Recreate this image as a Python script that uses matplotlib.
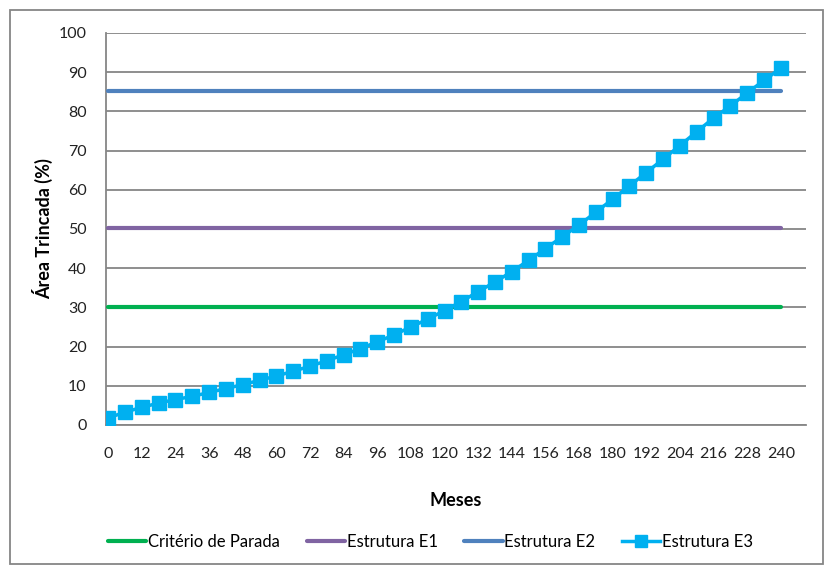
import numpy as np
import matplotlib.pyplot as plt
from matplotlib.patches import Rectangle

plt.rcParams['font.family'] = ['Lato', 'DejaVu Sans']

# data
meses = list(range(0, 241, 6))
e3 = [1.8, 3.3, 4.5, 5.6, 6.5, 7.3, 8.3, 9.3, 10.3, 11.4,
      12.5, 13.7, 15.0, 16.4, 17.9, 19.5, 21.2, 23.0, 25.0, 27.0,
      29.2, 31.5, 34.0, 36.5, 39.1, 42.0, 45.0, 48.0, 51.0, 54.3,
      57.6, 61.0, 64.4, 67.8, 71.3, 74.8, 78.3, 81.4, 84.7, 87.9, 91.0]
criterio = 30.0
e1 = 50.3
e2 = 85.3
xticks = list(range(0, 241, 12))
yticks = list(range(0, 101, 10))

fig = plt.figure(figsize=(8.25, 5.65), dpi=100)
ax = fig.add_axes([106/825, 1 - 425/565, 700/825, 392/565])

n = len(meses)
ax.plot(meses, [criterio]*n, color='#00b050', lw=3, solid_capstyle='round',
        label='Critério de Parada', zorder=3)
ax.plot(meses, [e1]*n, color='#8064a2', lw=3, solid_capstyle='round',
        label='Estrutura E1', zorder=3)
ax.plot(meses, [e2]*n, color='#4f81bd', lw=3, solid_capstyle='round',
        label='Estrutura E2', zorder=3)
ax.plot(meses, e3, color='#00b0f0', lw=2.5, marker='s', ms=10,
        label='Estrutura E3', zorder=4)

ax.set_xlim(-0.8, 249)
ax.set_ylim(0, 100)
ax.set_xticks(xticks)
ax.set_yticks(yticks)
ax.tick_params(length=0, labelsize=11.5, colors='#222222')
ax.tick_params(axis='x', pad=16)
ax.tick_params(axis='y', pad=14)
ax.yaxis.grid(True, color='#868686', lw=1.3)
ax.set_axisbelow(True)
for s in ['top', 'right']:
    ax.spines[s].set_visible(False)
for s in ['left', 'bottom']:
    ax.spines[s].set_color('#868686')
    ax.spines[s].set_linewidth(1.3)

ax.set_xlabel('Meses', fontsize=13, fontweight='bold', labelpad=22)
ax.set_ylabel('Área Trincada (%)', fontsize=13, fontweight='bold', labelpad=4)

ax.legend(loc='center', bbox_to_anchor=(0.5 + 18/825, 1 - 542/565),
          bbox_transform=fig.transFigure,
          ncol=4, frameon=False, fontsize=12, handlelength=2.3, handletextpad=0.1,
          columnspacing=1.6, markerscale=0.8)

fig.patches.append(Rectangle((10/825, 0.001), 813/825, 1 - 10/565 - 0.001,
                             transform=fig.transFigure, fill=False,
                             edgecolor='#868686', lw=1.3))

fig.savefig('out.png', dpi=100)
